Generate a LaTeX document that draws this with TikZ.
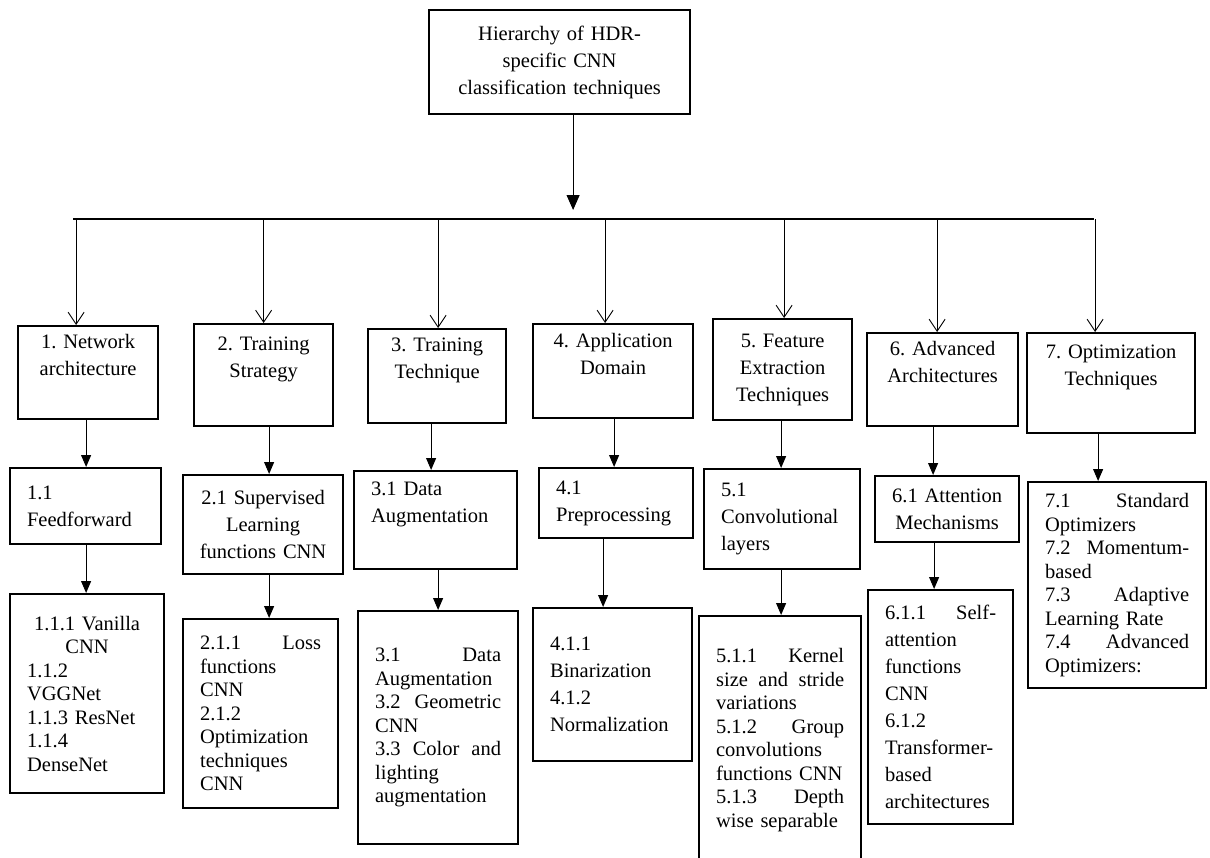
\documentclass[tikz,border=0pt]{standalone}
\usepackage{fontspec}
\setmainfont{Liberation Serif}
\usetikzlibrary{arrows.meta}

\begin{document}
\begin{tikzpicture}[x=1pt, y=-1pt,
  font=\fontsize{20.5}{27}\selectfont\frenchspacing,
  blk/.style={draw, line width=2.2pt, inner xsep=17pt, inner ysep=0pt, anchor=north west},
  dense/.style={font=\fontsize{20.5}{23.5}\selectfont\frenchspacing},
  tip/.style={-{Triangle[length=12pt,width=10pt]}, line width=1pt},
  drop/.style={-{Straight Barb[length=12pt,width=16pt]}, line width=0.9pt}]

  \path[fill=white, use as bounding box] (0,0) rectangle (1210,857);

  % root
  \node[blk, minimum width=261pt, minimum height=104pt, text width=227pt, align=center] (root) at (428,9) {Hierarchy of HDR-\\specific CNN\\classification techniques};
  \coordinate (busL) at (73,219);
  \coordinate (busR) at (1094,219);

  % first level
  \node[blk, minimum width=140pt, minimum height=93pt, text width=106pt, align=center] (n1) at (17,325) {1. Network\\architecture\\\strut};
  \node[blk, minimum width=139pt, minimum height=102pt, text width=105pt, align=center] (n2) at (193,323) {2. Training\\Strategy\\\strut};
  \node[blk, minimum width=138pt, minimum height=94pt, text width=104pt, align=center] (n3) at (367,328) {3. Training\\Technique\\\strut};
  \node[blk, minimum width=160pt, minimum height=94pt, text width=126pt, align=center] (n4) at (532,323) {4. Application\\Domain\\\strut};
  \node[blk, minimum width=139pt, minimum height=101pt, text width=105pt, align=center] (n5) at (712,318) {5. Feature\\Extraction\\Techniques};
  \node[blk, minimum width=151pt, minimum height=93pt, text width=117pt, align=center] (n6) at (866,332) {6. Advanced\\Architectures\\\strut};
  \node[blk, minimum width=168pt, minimum height=100pt, text width=134pt, align=center] (n7) at (1026,332) {7. Optimization\\Techniques\\\strut};

  % second level
  \node[blk, minimum width=151pt, minimum height=76pt, text width=117pt, align=left] (m1) at (9,467) {1.1\\Feedforward};
  \node[blk, inner xsep=8pt, minimum width=160pt, minimum height=99pt, text width=144pt, align=center] (m2) at (182,474) {2.1 Supervised\\Learning\\functions CNN};
  \node[blk, minimum width=163pt, minimum height=98pt, text width=129pt, align=left] (m3) at (353,470) {3.1 Data\\Augmentation\\\strut};
  \node[blk, minimum width=154pt, minimum height=70pt, text width=120pt, align=left] (m4) at (538,467) {4.1\\Preprocessing};
  \node[blk, minimum width=156pt, minimum height=100pt, text width=122pt, align=left] (m5) at (703,468) {5.1\\Convolutional\\layers};
  \node[blk, inner xsep=10pt, minimum width=144pt, minimum height=66pt, text width=124pt, align=center] (m6) at (874,475) {6.1 Attention\\Mechanisms};
  \node[blk, dense, minimum width=178pt, minimum height=206pt, text width=144pt, align=left] (m7) at (1027,481) {7.1\hfill Standard\\Optimizers\\7.2\hfill Momentum-\\based\\7.3\hfill Adaptive\\Learning Rate\\7.4\hfill Advanced\\Optimizers:};

  % third level
  \node[blk, dense, minimum width=154pt, minimum height=199pt, text width=120pt, align=left] (k1) at (9,593) {\hfill 1.1.1 Vanilla\hfill\null\\\hfill CNN\hfill\null\\1.1.2\\VGGNet\\1.1.3 ResNet\\1.1.4\\DenseNet};
  \node[blk, dense, minimum width=155pt, minimum height=189pt, text width=121pt, align=left] (k2) at (182,618) {2.1.1\hfill Loss\\functions\\CNN\\2.1.2\\Optimization\\techniques\\CNN};
  \node[blk, dense, minimum width=160pt, minimum height=233pt, text width=126pt, align=left] (k3) at (357,610) {3.1\hfill Data\\Augmentation\\3.2\hfill Geometric\\CNN\\3.3\hfill Color\hfill and\\lighting\\augmentation};
  \node[blk, minimum width=159pt, minimum height=153pt, text width=125pt, align=left] (k4) at (532,607) {4.1.1\\Binarization\\4.1.2\\Normalization};
  \node[blk, dense, minimum width=162pt, minimum height=248pt, text width=128pt, align=left] (k5) at (698,615) {5.1.1\hfill Kernel\\size\hfill and\hfill stride\\variations\\5.1.2\hfill Group\\convolutions\\functions CNN\\5.1.3\hfill Depth\\wise separable};
  \node[blk, minimum width=145pt, minimum height=234pt, text width=111pt, align=left] (k6) at (867,589) {6.1.1\hfill Self-\\attention\\functions\\CNN\\6.1.2\\Transformer-\\based\\architectures};

  % root to bus
  \draw[-{Triangle[length=15pt,width=13pt]}, line width=1pt] ([xshift=13.5pt]root.south) -- ([xshift=13.5pt, yshift=9pt]root.south |- busL);
  \draw[line width=2pt] (busL) -- (busR);

  % bus to first level
  \draw[drop] ([xshift=-12pt]n1.north |- busL) -- ([xshift=-12pt]n1.north);
  \draw[drop] (n2.north |- busL) -- (n2.north);
  \draw[drop] ([xshift=1pt]n3.north |- busL) -- ([xshift=1pt]n3.north);
  \draw[drop] ([xshift=-8pt]n4.north |- busL) -- ([xshift=-8pt]n4.north);
  \draw[drop] ([xshift=1.5pt]n5.north |- busL) -- ([xshift=1.5pt]n5.north);
  \draw[drop] ([xshift=-5.5pt]n6.north |- busL) -- ([xshift=-5.5pt]n6.north);
  \draw[drop] ([xshift=-16pt]n7.north |- busL) -- ([xshift=-16pt]n7.north);

  % first to second level
  \draw[tip] ([xshift=-2pt]n1.south) -- ([xshift=-2pt]n1.south |- m1.north);
  \draw[tip] ([xshift=5.5pt]n2.south) -- ([xshift=5.5pt]n2.south |- m2.north);
  \draw[tip] ([xshift=-6pt]n3.south) -- ([xshift=-6pt]n3.south |- m3.north);
  \draw[tip] ([xshift=1pt]n4.south) -- ([xshift=1pt]n4.south |- m4.north);
  \draw[tip] ([xshift=-1.5pt]n5.south) -- ([xshift=-1.5pt]n5.south |- m5.north);
  \draw[tip] ([xshift=-9.5pt]n6.south) -- ([xshift=-9.5pt]n6.south |- m6.north);
  \draw[tip] ([xshift=-13pt]n7.south) -- ([xshift=-13pt]n7.south |- m7.north);

  % second to third level
  \draw[tip] ([xshift=0.5pt]m1.south) -- ([xshift=0.5pt]m1.south |- k1.north);
  \draw[tip] ([xshift=6pt]m2.south) -- ([xshift=6pt]m2.south |- k2.north);
  \draw[tip] ([xshift=2.5pt]m3.south) -- ([xshift=2.5pt]m3.south |- k3.north);
  \draw[tip] ([xshift=-13pt]m4.south) -- ([xshift=-13pt]m4.south |- k4.north);
  \draw[tip] ([xshift=-1pt]m5.south) -- ([xshift=-1pt]m5.south |- k5.north);
  \draw[tip] ([xshift=-13pt]m6.south) -- ([xshift=-13pt]m6.south |- k6.north);
\end{tikzpicture}
\end{document}
